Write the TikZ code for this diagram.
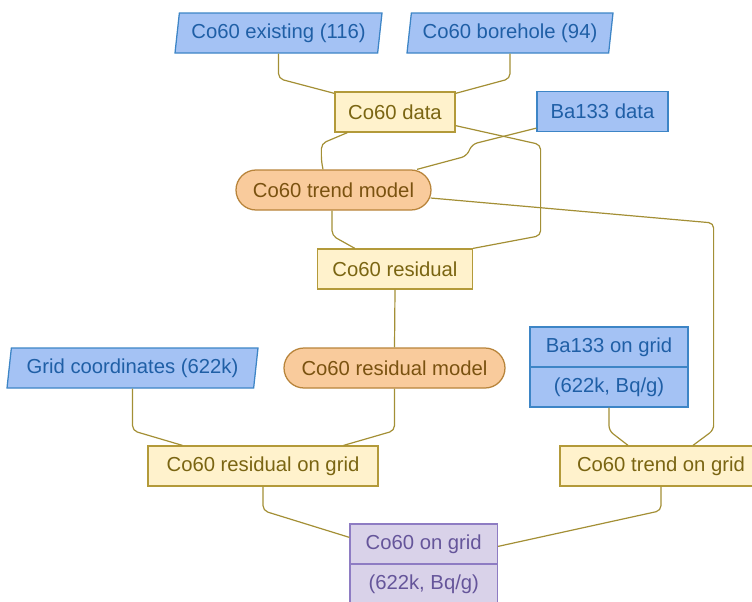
\documentclass[tikz,border=0pt]{standalone}
\usepackage{fontspec}
\setmainfont{Liberation Sans}
\usetikzlibrary{shapes.geometric}
\newcommand\pxl[1]{#1*0.75pt}

\definecolor{bfill}{HTML}{A4C2F4}
\definecolor{bdraw}{HTML}{3D85C6}
\definecolor{btext}{HTML}{1F5FA6}
\definecolor{yfill}{HTML}{FFF2CC}
\definecolor{ydraw}{HTML}{B39A3A}
\definecolor{ytext}{HTML}{7A6512}
\definecolor{ofill}{HTML}{F9CB9C}
\definecolor{odraw}{HTML}{B8843A}
\definecolor{otext}{HTML}{7A5210}
\definecolor{pfill}{HTML}{D9D2E9}
\definecolor{pdraw}{HTML}{8E7CC3}
\definecolor{ptext}{HTML}{65559A}
\definecolor{wire}{HTML}{A38F35}

\tikzset{
  base/.style={inner sep=0pt, line width=0.95pt, font=\fontsize{15.2}{18}\selectfont,
    minimum height=\pxl{40}},
  inputbox/.style={base, trapezium, trapezium left angle=77, trapezium right angle=103,
    trapezium stretches body, fill=bfill, draw=bdraw, text=btext},
  bluebox/.style={base, rectangle, fill=bfill, draw=bdraw, text=btext},
  databox/.style={base, rectangle, fill=yfill, draw=ydraw, text=ytext},
  modelbox/.style={base, rectangle, rounded corners=\pxl{20}, fill=ofill, draw=odraw, text=otext},
  resultbox/.style={base, rectangle, fill=pfill, draw=pdraw, text=ptext},
  label/.style={inner sep=0pt, font=\fontsize{15.2}{18}\selectfont},
  link/.style={draw=wire, line width=0.9pt, rounded corners=\pxl{5}},
}

\begin{document}
\begin{tikzpicture}[x=0.75pt, y=-0.75pt]
\clip (0,0) rectangle (752,601);

% inputs
\node[inputbox, minimum width=\pxl{207}] (ex) at (278.5,33) {Co60 existing (116)};
\node[inputbox, minimum width=\pxl{206}] (bh) at (510,33) {Co60 borehole (94)};
\node[inputbox, minimum width=\pxl{251}] (grid) at (132.5,368) {Grid coordinates (622k)};
\node[bluebox, minimum width=\pxl{131}] (ba) at (602.5,111.5) {Ba133 data};

% Ba133 grid: two-part box
\node[bluebox, minimum width=\pxl{158}, minimum height=\pxl{80}] (bgrid) at (609,367) {};
\draw[bdraw, line width=0.95pt] (bgrid.west) -- (bgrid.east);
\node[label, text=btext] (bgridA) at ([shift={(0,-20)}]bgrid.center) {Ba133 on grid};
\node[label, text=btext] (bgridB) at ([shift={(0,20)}]bgrid.center) {(622k, Bq/g)};

% intermediate data
\node[databox, minimum width=\pxl{120}] (data) at (395,112) {Co60 data};
\node[databox, minimum width=\pxl{155}] (res) at (395,269) {Co60 residual};
\node[databox, minimum width=\pxl{230}] (rgrid) at (263,466) {Co60 residual on grid};
\node[databox, minimum width=\pxl{202}] (tgrid) at (661,466) {Co60 trend on grid};

% models
\node[modelbox, minimum width=\pxl{195}] (tm) at (333.5,190) {Co60 trend model};
\node[modelbox, minimum width=\pxl{221}] (rm) at (394.5,368) {Co60 residual model};

% result: two-part box
\node[resultbox, minimum width=\pxl{147.5}, minimum height=\pxl{80}] (cgrid) at (423.75,564) {};
\draw[pdraw, line width=0.95pt] (cgrid.west) -- (cgrid.east);
\node[label, text=ptext] (cgridA) at ([shift={(0,-20)}]cgrid.center) {Co60 on grid};
\node[label, text=ptext] (cgridB) at ([shift={(0,20)}]cgrid.center) {(622k, Bq/g)};

% connectors
\draw[link] (ex.south) -- ++(0,25) -- ([shift={(0,2)}]data.north west);
\draw[link] (bh.south) -- ++(0,25) -- ([shift={(0,2)}]data.north east);
\draw[link] ([shift={(13,0)}]data.south west) -- ++(-26,11) -- ++(0,17) -- ([shift={(-10.5,0)}]tm.north);
\draw[link] ([shift={(0,-4)}]ba.south west) -- ++(-64,16) -- ++(-6,12) -- ([shift={(83.5,0)}]tm.north);
\draw[link] ([shift={(0,-7)}]data.south east) -- ++(85,19) -- ++(0,91) -- (res.north east);
\draw[link] ([shift={(-1.5,0)}]tm.south) -- ++(0,25) -- ([shift={(38,0)}]res.north west);
\draw[link] ([shift={(-1,8)}]tm.east) -- ++(283,25) -- ++(0,207) -- ([shift={(32,0)}]tgrid.north);
\draw[link] (res.south) -- (rm.north);
\draw[link] (grid.south) -- ++(0,42) -- ([shift={(35,0)}]rgrid.north west);
\draw[link] (rm.south) -- ++(0,42) -- ([shift={(-35,0)}]rgrid.north east);
\draw[link] (bgrid.south) -- ++(0,23) -- ([shift={(-33,0)}]tgrid.north);
\draw[link] (rgrid.south) -- ++(0,24) -- ([shift={(0,14)}]cgrid.north west);
\draw[link] (tgrid.south) -- ++(0,24) -- ([shift={(0,23)}]cgrid.north east);
\end{tikzpicture}
\end{document}
